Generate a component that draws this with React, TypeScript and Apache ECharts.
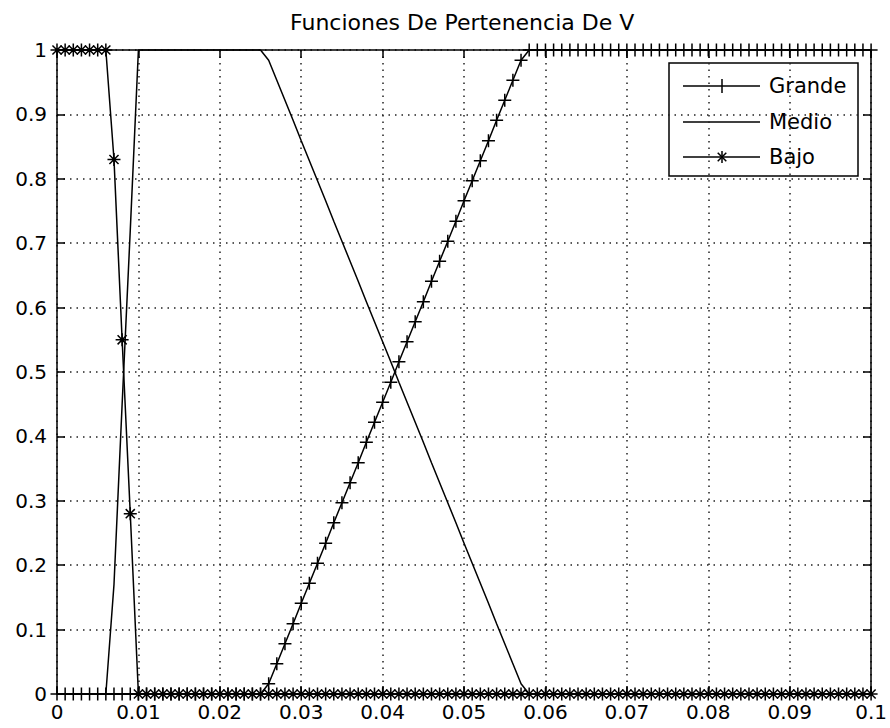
import React, { useEffect, useRef } from "react";
import * as echarts from "echarts";

const titleText = "Funciones De Pertenencia De V";
const seriesNames = ["Grande", "Medio", "Bajo"];

const xValues = [
  0, 0.001, 0.002, 0.003, 0.004, 0.005, 0.006, 0.007, 0.008, 0.009,
  0.01, 0.011, 0.012, 0.013, 0.014, 0.015, 0.016, 0.017, 0.018, 0.019,
  0.02, 0.021, 0.022, 0.023, 0.024, 0.025, 0.026, 0.027, 0.028, 0.029,
  0.03, 0.031, 0.032, 0.033, 0.034, 0.035, 0.036, 0.037, 0.038, 0.039,
  0.04, 0.041, 0.042, 0.043, 0.044, 0.045, 0.046, 0.047, 0.048, 0.049,
  0.05, 0.051, 0.052, 0.053, 0.054, 0.055, 0.056, 0.057, 0.058, 0.059,
  0.06, 0.061, 0.062, 0.063, 0.064, 0.065, 0.066, 0.067, 0.068, 0.069,
  0.07, 0.071, 0.072, 0.073, 0.074, 0.075, 0.076, 0.077, 0.078, 0.079,
  0.08, 0.081, 0.082, 0.083, 0.084, 0.085, 0.086, 0.087, 0.088, 0.089,
  0.09, 0.091, 0.092, 0.093, 0.094, 0.095, 0.096, 0.097, 0.098, 0.099,
  0.1,
];

const grande = [
  0, 0, 0, 0, 0, 0, 0, 0, 0, 0,
  0, 0, 0, 0, 0, 0, 0, 0, 0, 0,
  0, 0, 0, 0, 0, 0, 0.016, 0.047, 0.078, 0.109,
  0.141, 0.172, 0.203, 0.234, 0.266, 0.297, 0.328, 0.359, 0.391, 0.422,
  0.453, 0.484, 0.516, 0.547, 0.578, 0.609, 0.641, 0.672, 0.703, 0.734,
  0.766, 0.797, 0.828, 0.859, 0.891, 0.922, 0.953, 0.984, 1, 1,
  1, 1, 1, 1, 1, 1, 1, 1, 1, 1,
  1, 1, 1, 1, 1, 1, 1, 1, 1, 1,
  1, 1, 1, 1, 1, 1, 1, 1, 1, 1,
  1, 1, 1, 1, 1, 1, 1, 1, 1, 1,
  1,
];

const medio = [
  0, 0, 0, 0, 0, 0, 0, 0.17, 0.45, 0.72,
  1, 1, 1, 1, 1, 1, 1, 1, 1, 1,
  1, 1, 1, 1, 1, 1, 0.984, 0.953, 0.922, 0.891,
  0.859, 0.828, 0.797, 0.766, 0.734, 0.703, 0.672, 0.641, 0.609, 0.578,
  0.547, 0.516, 0.484, 0.453, 0.422, 0.391, 0.359, 0.328, 0.297, 0.266,
  0.234, 0.203, 0.172, 0.141, 0.109, 0.078, 0.047, 0.016, 0, 0,
  0, 0, 0, 0, 0, 0, 0, 0, 0, 0,
  0, 0, 0, 0, 0, 0, 0, 0, 0, 0,
  0, 0, 0, 0, 0, 0, 0, 0, 0, 0,
  0, 0, 0, 0, 0, 0, 0, 0, 0, 0,
  0,
];

const bajo = [
  1, 1, 1, 1, 1, 1, 1, 0.83, 0.55, 0.28,
  0, 0, 0, 0, 0, 0, 0, 0, 0, 0,
  0, 0, 0, 0, 0, 0, 0, 0, 0, 0,
  0, 0, 0, 0, 0, 0, 0, 0, 0, 0,
  0, 0, 0, 0, 0, 0, 0, 0, 0, 0,
  0, 0, 0, 0, 0, 0, 0, 0, 0, 0,
  0, 0, 0, 0, 0, 0, 0, 0, 0, 0,
  0, 0, 0, 0, 0, 0, 0, 0, 0, 0,
  0, 0, 0, 0, 0, 0, 0, 0, 0, 0,
  0, 0, 0, 0, 0, 0, 0, 0, 0, 0,
  0,
];

const xTickLabels = ["0", "0.01", "0.02", "0.03", "0.04", "0.05", "0.06", "0.07", "0.08", "0.09", "0.1"];
const yTickLabels = ["0", "0.1", "0.2", "0.3", "0.4", "0.5", "0.6", "0.7", "0.8", "0.9", "1"];

const FONT = "'DejaVu Sans', 'Liberation Sans', sans-serif";
const PLUS = "path://M5,0L5,10M0,5L10,5";
const STAR = "path://M5,0L5,10M0,5L10,5M1.5,1.5L8.5,8.5M8.5,1.5L1.5,8.5";

function buildLegend() {
  const LX = 669, LY = 63, LW = 189, LH = 113;
  const rowY = [86, 122, 157];
  const lineX0 = 683, lineX1 = 760, mx = 722, textX = 769;
  const els: any[] = [
    { type: "rect", shape: { x: LX, y: LY, width: LW, height: LH }, style: { fill: "#fff", stroke: "#000", lineWidth: 1.5 } },
  ];
  const ls = { stroke: "#000", lineWidth: 1.5 };
  seriesNames.forEach((name, i) => {
    const y = rowY[i];
    els.push({ type: "line", shape: { x1: lineX0, y1: y, x2: lineX1, y2: y }, style: ls });
    if (i === 0) {
      els.push({ type: "line", shape: { x1: mx, y1: y - 7, x2: mx, y2: y + 7 }, style: ls });
    }
    if (i === 2) {
      const r = 6;
      const d = 4.3;
      els.push({ type: "line", shape: { x1: mx, y1: y - r, x2: mx, y2: y + r }, style: ls });
      els.push({ type: "line", shape: { x1: mx - d, y1: y - d, x2: mx + d, y2: y + d }, style: ls });
      els.push({ type: "line", shape: { x1: mx + d, y1: y - d, x2: mx - d, y2: y + d }, style: ls });
    }
    els.push({
      type: "text",
      x: textX,
      y: y,
      style: { text: name, fill: "#000", fontSize: 21, fontFamily: FONT, verticalAlign: "middle", align: "left" },
    });
  });
  return [{ type: "group", z: 100, children: els }];
}

export default function App() {
  const ref = useRef<HTMLDivElement>(null);
  useEffect(() => {
    document.body.style.margin = "0";
    if (!ref.current) return;
    const chart = echarts.init(ref.current, undefined, { renderer: "svg" });
    const axisLine = { show: true, onZero: false, lineStyle: { color: "#000", width: 1.5 } };
    const tick = { show: true, inside: true, length: 8, lineStyle: { color: "#000", width: 1.5 } };
    const split = { show: true, lineStyle: { color: "#222", width: 1.5, type: [1.5, 5] } };
    const xLabel = {
      show: true, color: "#000", fontSize: 20, fontFamily: FONT, margin: 8,
      formatter: (v: number) => xTickLabels[Math.round(v / 0.01)] ?? "",
    };
    const yLabel = {
      show: true, color: "#000", fontSize: 20, fontFamily: FONT, margin: 10,
      formatter: (v: number) => yTickLabels[Math.round(v / 0.1)] ?? "",
    };
    const mk = (vals: number[]) => xValues.map((x, i) => [x, vals[i]]);
    const lineCommon = {
      type: "line",
      xAxisIndex: 0,
      yAxisIndex: 0,
      clip: false,
      showAllSymbol: true,
      symbolSize: 13,
      lineStyle: { color: "#000", width: 1.5 },
      itemStyle: { color: "#000", borderColor: "#000", borderWidth: 1.5 },
      emphasis: { disabled: true },
      silent: true,
    };
    chart.setOption({
      animation: false,
      backgroundColor: "#fff",
      title: {
        text: titleText,
        left: 285,
        top: 6,
        textStyle: { color: "#000", fontSize: 22, fontWeight: "normal", fontFamily: FONT },
      },
      grid: { left: 57, right: 13, top: 50, bottom: 34, containLabel: false },
      xAxis: [
        { type: "value", position: "bottom", min: 0, max: 0.1, interval: 0.01, axisLine, axisTick: tick, axisLabel: xLabel, splitLine: split },
        { type: "value", position: "top", min: 0, max: 0.1, interval: 0.01, axisLine, axisTick: tick, axisLabel: { show: false }, splitLine: { show: false } },
      ],
      yAxis: [
        { type: "value", position: "left", min: 0, max: 1, interval: 0.1, axisLine, axisTick: tick, axisLabel: yLabel, splitLine: split },
        { type: "value", position: "right", min: 0, max: 1, interval: 0.1, axisLine, axisTick: tick, axisLabel: { show: false }, splitLine: { show: false } },
      ],
      graphic: buildLegend(),
      series: [
        { ...lineCommon, name: seriesNames[0], symbol: PLUS, data: mk(grande) },
        { ...lineCommon, name: seriesNames[1], symbol: "none", showSymbol: false, data: mk(medio) },
        { ...lineCommon, name: seriesNames[2], symbol: STAR, data: mk(bajo) },
      ],
    });
    return () => chart.dispose();
  }, []);
  return <div ref={ref} style={{ width: 890, height: 728 }} />;
}
